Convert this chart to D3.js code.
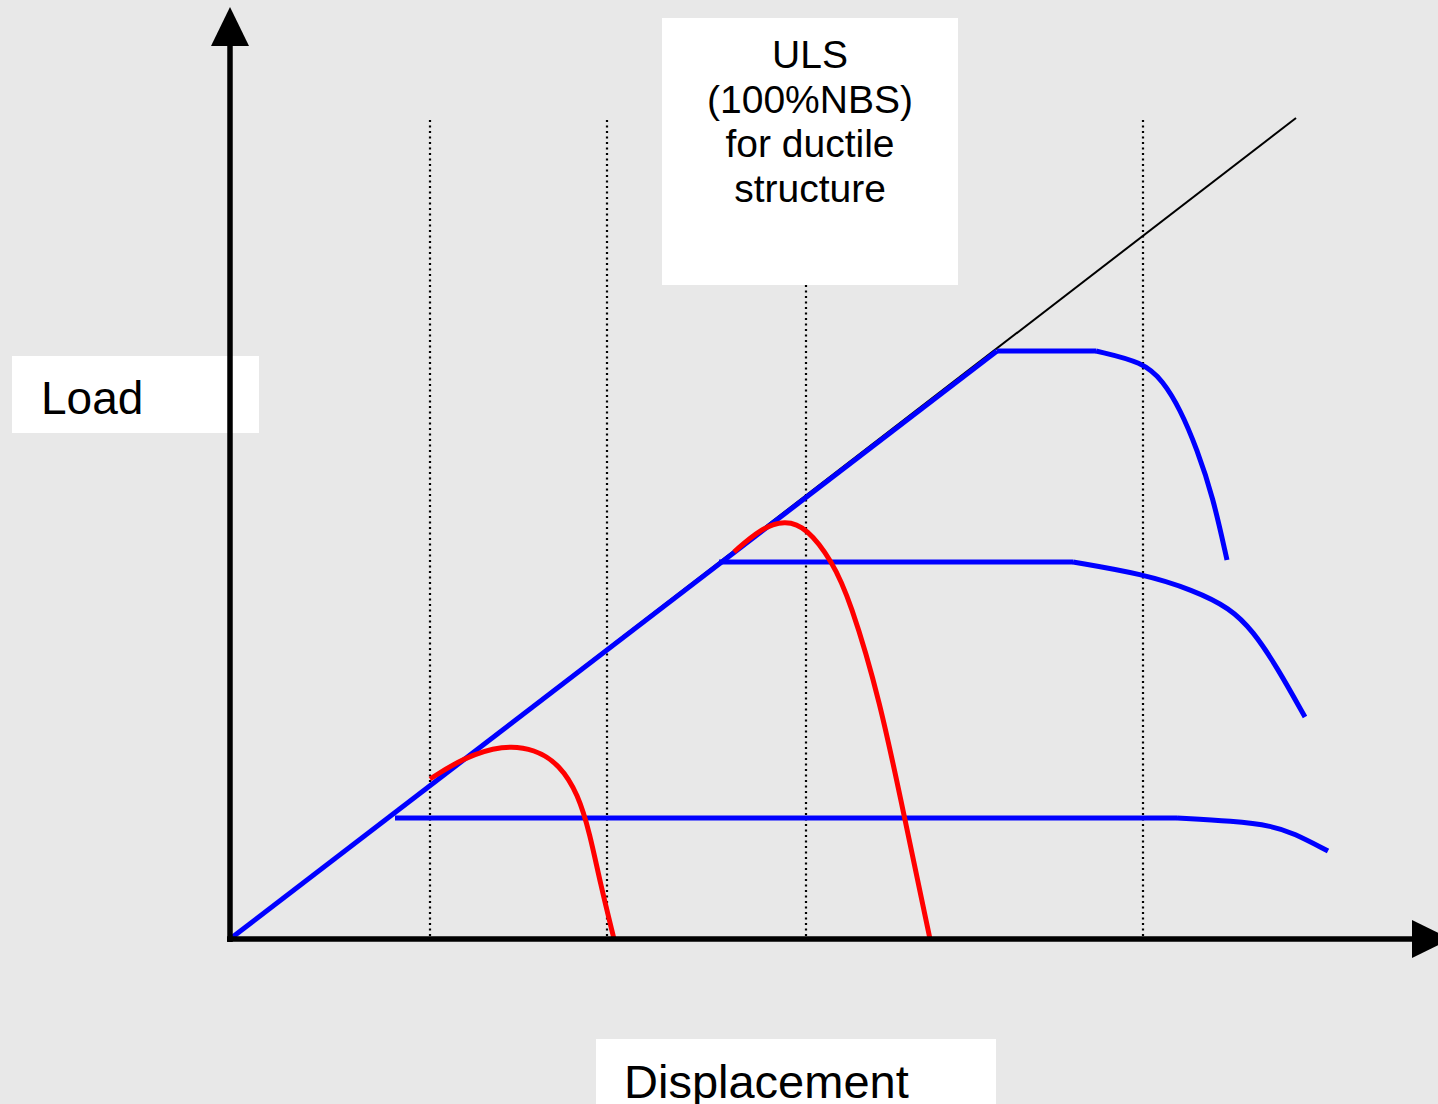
<!DOCTYPE html>
<html>
<head>
<meta charset="utf-8">
<script src="https://cdn.jsdelivr.net/npm/d3@7.9.0/dist/d3.min.js"></script>
<style>
  html, body { margin: 0; padding: 0; background: #e8e8e8; }
  svg { display: block; font-family: "Liberation Sans", Arial, sans-serif; }
</style>
</head>
<body>
<svg id="chart" width="1438" height="1104"></svg>
<script>
// data in arbitrary displacement / load units
const elasticLine = [[0, 0], [106.6, 82.1]];
const blueRise = [[0, 0], [76.7, 58.8]];
// first two points = plateau, rest = softening branch
const blueHigh = [[76.7, 58.8], [86.6, 58.8], [91.3, 57.7], [93.3, 55.8], [95, 53], [96.7, 49], [98.3, 44.2], [99.7, 37.9]];
const blueMid = [[48.9, 37.7], [84.3, 37.7], [91.3, 36.5], [96.3, 34.9], [100, 33.1], [102.3, 30.8], [104.7, 27.2], [107.5, 22.2]];
const blueLow = [[16.5, 12.1], [94.7, 12.1], [100.3, 11.8], [104.3, 11.3], [106.3, 10.6], [109.8, 8.8]];
const redLow = [[20, 16], [23.3, 18.1], [27.3, 19.4], [30.5, 19], [33, 17.4], [34.8, 14.5], [36, 10.5], [37, 5.7], [38.4, 0]];
const redHigh = [[50.4, 38.7], [53, 41], [55.5, 41.9], [57.7, 41.1], [60.2, 37.8], [62, 33.9], [65, 23.9], [67.5, 11.9], [70, 0]];
const markerX = [20, 37.7, 57.6, 91.3];
const markerTop = 81.9;
const ulsLines = ["ULS", "(100%NBS)", "for ductile", "structure"];

const svg = d3.select("#chart");
const x = d3.scaleLinear().domain([0, 120]).range([230, 1430]);
const y = d3.scaleLinear().domain([0, 93]).range([939, 9]);

svg.append("rect").attr("width", 1438).attr("height", 1104).attr("fill", "#e8e8e8");

// dotted verticals
svg.selectAll(".vline")
  .data(markerX)
  .enter().append("line")
    .attr("class", "vline")
    .attr("x1", d => x(d)).attr("x2", d => x(d))
    .attr("y1", y(markerTop)).attr("y2", y(0))
    .attr("stroke", "#000")
    .attr("stroke-width", 2.2)
    .attr("stroke-dasharray", "2,3.5");

// ULS box
svg.append("rect").attr("x", 662).attr("y", 18).attr("width", 296).attr("height", 267).attr("fill", "#fff");
svg.append("g").selectAll("text")
  .data(ulsLines)
  .enter().append("text")
    .attr("x", 810)
    .attr("y", (d, i) => 68 + i * 44.5)
    .attr("text-anchor", "middle")
    .attr("font-size", 39)
    .attr("fill", "#000")
    .text(d => d);

// Load box
svg.append("rect").attr("x", 12).attr("y", 356).attr("width", 247).attr("height", 77).attr("fill", "#fff");
svg.append("text").attr("x", 41).attr("y", 414).attr("font-size", 46).attr("fill", "#000").text("Load");

// Displacement box
svg.append("rect").attr("x", 596).attr("y", 1039).attr("width", 400).attr("height", 70).attr("fill", "#fff");
svg.append("text").attr("x", 624).attr("y", 1098).attr("font-size", 47).attr("fill", "#000").text("Displacement");

const straight = d3.line().x(d => x(d[0])).y(d => y(d[1]));
const smooth = d3.line().x(d => x(d[0])).y(d => y(d[1])).curve(d3.curveBasis);

svg.append("path").datum(elasticLine).attr("d", straight)
  .attr("fill", "none").attr("stroke", "#000").attr("stroke-width", 2);

// plateau first, then the softening branch
[blueHigh, blueMid, blueLow].forEach(s => {
  svg.append("path").datum(s.slice(0, 2)).attr("d", straight)
    .attr("fill", "none").attr("stroke", "#0000ff").attr("stroke-width", 5);
  svg.append("path").datum(s.slice(1)).attr("d", smooth)
    .attr("fill", "none").attr("stroke", "#0000ff").attr("stroke-width", 5);
});
svg.append("path").datum(blueRise).attr("d", straight)
  .attr("fill", "none").attr("stroke", "#0000ff").attr("stroke-width", 5);

[redLow, redHigh].forEach(s => {
  svg.append("path").datum(s).attr("d", smooth)
    .attr("fill", "none").attr("stroke", "#ff0000").attr("stroke-width", 5);
});

// axes with arrows
svg.append("line").attr("x1", x(0)).attr("x2", x(0)).attr("y1", y(0) + 3).attr("y2", 44)
  .attr("stroke", "#000").attr("stroke-width", 5.5);
svg.append("line").attr("x1", x(0) - 3).attr("x2", 1413).attr("y1", y(0)).attr("y2", y(0))
  .attr("stroke", "#000").attr("stroke-width", 5.5);
svg.append("path").attr("d", "M230,7L249,46L211,46Z").attr("fill", "#000");
svg.append("path").attr("d", "M1451,939L1412,920L1412,958Z").attr("fill", "#000");
</script>
</body>
</html>
